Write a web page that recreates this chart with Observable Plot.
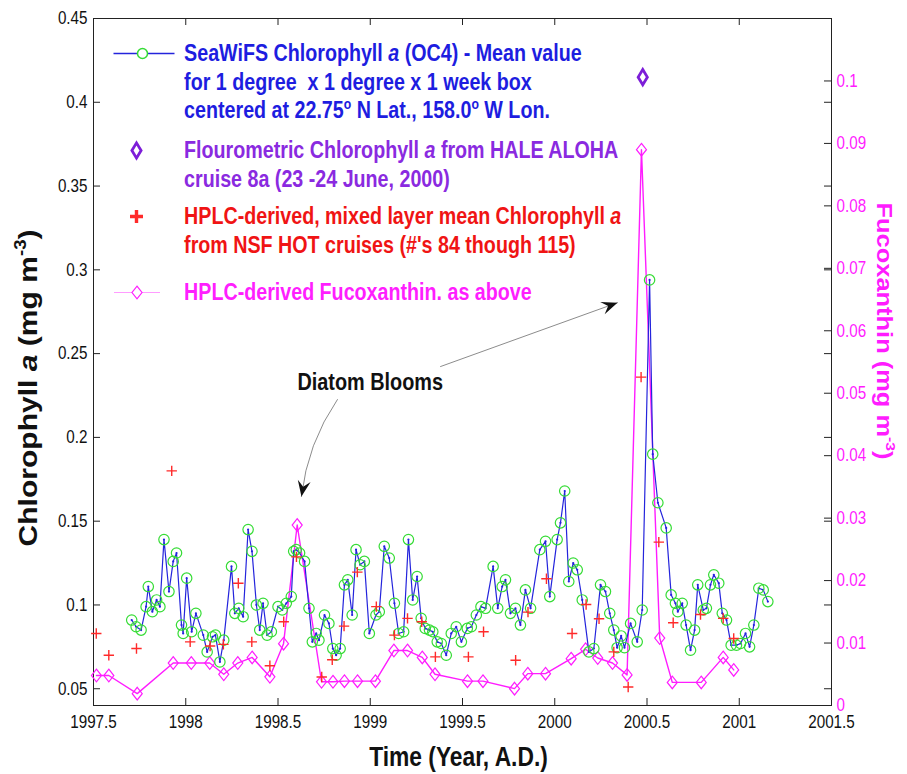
<!DOCTYPE html>
<html>
<head>
<meta charset="utf-8">
<script src="https://cdn.jsdelivr.net/npm/d3@7"></script>
<script src="https://cdn.jsdelivr.net/npm/@observablehq/plot@0.6"></script>
<style>
  body { margin: 0; background: #fff; }
  #chart svg { display: block; }
  #chart text { white-space: pre; }
</style>
</head>
<body>
<div id="chart"></div>
<script>
// SeaWiFS chlorophyll a (OC4), mean of a 1° x 1° x 1-week box at 22.75°N, 158.0°W (mg m-3)
const seawifsYear = [
  1997.707, 1997.731, 1997.758, 1997.785, 1997.797, 1997.819, 1997.842, 1997.860, 1997.882, 1997.909,
  1997.932, 1997.950, 1997.977, 1997.986, 1998.005, 1998.032, 1998.055, 1998.095, 1998.116, 1998.145,
  1998.161, 1998.185, 1998.206, 1998.248, 1998.266, 1998.287, 1998.311, 1998.338, 1998.359, 1998.383,
  1998.401, 1998.419, 1998.441, 1998.464, 1998.500, 1998.523, 1998.545, 1998.572, 1998.585, 1998.599,
  1998.617, 1998.644, 1998.668, 1998.686, 1998.707, 1998.722, 1998.752, 1998.776, 1998.797, 1998.815,
  1998.837, 1998.860, 1998.878, 1998.902, 1998.923, 1998.945, 1998.968, 1998.995, 1999.031, 1999.049,
  1999.076, 1999.103, 1999.131, 1999.154, 1999.181, 1999.207, 1999.230, 1999.254, 1999.276, 1999.298,
  1999.321, 1999.339, 1999.363, 1999.385, 1999.412, 1999.439, 1999.466, 1999.494, 1999.526, 1999.548,
  1999.575, 1999.600, 1999.625, 1999.666, 1999.691, 1999.715, 1999.733, 1999.760, 1999.787, 1999.814,
  1999.841, 1999.869, 1999.919, 1999.950, 1999.973, 2000.013, 2000.031, 2000.054, 2000.076, 2000.100,
  2000.122, 2000.149, 2000.185, 2000.212, 2000.248, 2000.275, 2000.298, 2000.320, 2000.338, 2000.360,
  2000.378, 2000.411, 2000.447, 2000.474, 2000.514, 2000.531, 2000.559, 2000.604, 2000.631, 2000.654,
  2000.667, 2000.691, 2000.712, 2000.736, 2000.758, 2000.775, 2000.805, 2000.822, 2000.844, 2000.862,
  2000.889, 2000.908, 2000.931, 2000.956, 2000.985, 2001.007, 2001.034, 2001.056, 2001.079, 2001.106,
  2001.130, 2001.155
];
const seawifsChl = [
  0.091, 0.087, 0.085, 0.099, 0.111, 0.096, 0.103, 0.099, 0.139, 0.108,
  0.126, 0.131, 0.088, 0.083, 0.116, 0.084, 0.095, 0.082, 0.072, 0.081,
  0.082, 0.066, 0.079, 0.123, 0.095, 0.098, 0.093, 0.145, 0.132, 0.100,
  0.085, 0.101, 0.082, 0.084, 0.099, 0.097, 0.101, 0.105, 0.132, 0.133,
  0.131, 0.126, 0.098, 0.078, 0.083, 0.079, 0.094, 0.089, 0.074, 0.070,
  0.074, 0.112, 0.115, 0.094, 0.133, 0.124, 0.126, 0.083, 0.094, 0.096,
  0.135, 0.128, 0.101, 0.083, 0.084, 0.139, 0.103, 0.117, 0.092, 0.086,
  0.085, 0.084, 0.078, 0.077, 0.070, 0.083, 0.087, 0.078, 0.086, 0.087,
  0.094, 0.099, 0.098, 0.123, 0.098, 0.111, 0.115, 0.095, 0.098, 0.088,
  0.109, 0.098, 0.133, 0.138, 0.105, 0.139, 0.149, 0.168, 0.114, 0.125,
  0.121, 0.103, 0.072, 0.074, 0.112, 0.108, 0.095, 0.085, 0.0745, 0.0815,
  0.0745, 0.089, 0.078, 0.097, 0.294, 0.190, 0.161, 0.146, 0.106, 0.101,
  0.096, 0.101, 0.088, 0.073, 0.085, 0.112, 0.097, 0.098, 0.112, 0.118,
  0.113, 0.095, 0.091, 0.076, 0.076, 0.077, 0.083, 0.075, 0.088, 0.110,
  0.109, 0.102
];

// Fluorometric chlorophyll a, HALE ALOHA cruise 8a, 23-24 June 2000 (mg m-3)
const haleYear = [2000.477];
const haleChl = [0.415];

// HPLC mixed-layer mean chlorophyll a, HOT cruises 84-115 (mg m-3)
const hplcYear = [
  1997.515, 1997.583, 1997.733, 1997.924, 1998.024, 1998.132, 1998.204, 1998.285, 1998.358, 1998.456,
  1998.531, 1998.600, 1998.737, 1998.794, 1998.858, 1998.930, 1999.033, 1999.131, 1999.202, 1999.279,
  1999.353, 1999.532, 1999.614, 1999.788, 1999.855, 1999.955, 2000.094, 2000.170, 2000.240, 2000.320,
  2000.398, 2000.468, 2000.564, 2000.642, 2000.790, 2000.913, 2000.970
];
const hplcChl = [
  0.083, 0.070, 0.074, 0.180, 0.078, 0.0755, 0.0765, 0.113, 0.078, 0.0637,
  0.090, 0.1287, 0.057, 0.0673, 0.0874, 0.1196, 0.099, 0.082, 0.092, 0.090,
  0.069, 0.069, 0.084, 0.067, 0.0957, 0.1156, 0.083, 0.1003, 0.0918, 0.072,
  0.051, 0.236, 0.1375, 0.0894, 0.0943, 0.092, 0.080
];

// HPLC fucoxanthin, same cruises (mg m-3, right axis)
const fucoYear = [
  1997.516, 1997.583, 1997.737, 1997.932, 1998.030, 1998.130, 1998.206, 1998.282, 1998.360, 1998.456,
  1998.530, 1998.604, 1998.736, 1998.798, 1998.860, 1998.931, 1999.028, 1999.128, 1999.202, 1999.282,
  1999.351, 1999.527, 1999.611, 1999.782, 1999.854, 1999.950, 2000.089, 2000.167, 2000.233, 2000.313,
  2000.392, 2000.470, 2000.569, 2000.637, 2000.794, 2000.913, 2000.970
];
const fucoVal = [
  0.0048, 0.0048, 0.0019, 0.0068, 0.0068, 0.0068, 0.0050, 0.0068, 0.0077, 0.0046,
  0.0099, 0.0289, 0.0038, 0.0038, 0.0039, 0.0039, 0.0039, 0.0088, 0.0088, 0.0077,
  0.0050, 0.0039, 0.0039, 0.0027, 0.0051, 0.0051, 0.0075, 0.0090, 0.0076, 0.0068,
  0.0049, 0.0890, 0.0108, 0.0037, 0.0037, 0.0077, 0.0057
];

// Axis ticks
const yearTicks = [1997.5, 1998, 1998.5, 1999, 1999.5, 2000, 2000.5, 2001, 2001.5];
const chlTicks = [0.05, 0.1, 0.15, 0.2, 0.25, 0.3, 0.35, 0.4, 0.45];
const fucoTicks = [0, 0.01, 0.02, 0.03, 0.04, 0.05, 0.06, 0.07, 0.08, 0.09, 0.1];

// Legend entries (markup: *italic*, ^superscript^)
const legendSeawifs = [
  "SeaWiFS Chlorophyll *a* (OC4) - Mean value",
  "for 1 degree  x 1 degree x 1 week box",
  "centered at 22.75^o^ N Lat., 158.0^o^ W Lon."
];
const legendHale = ["Flourometric Chlorophyll *a* from HALE ALOHA", "cruise 8a (23 -24 June, 2000)"];
const legendHplc = ["HPLC-derived, mixed layer mean Chlorophyll *a*", "from NSF HOT cruises (#'s 84 though 115)"];
const legendFuco = ["HPLC-derived Fucoxanthin. as above"];

// "Diatom Blooms" note and its two pointers (year, chlorophyll units)
const noteText = "Diatom Blooms";
const noteAt = [1999.0, 0.233];
const pointerFrom = [[1998.822, 0.2226], [1999.381, 0.2423]];
const pointerTo = [[1998.627, 0.1647], [2000.340, 0.2804]];

// ---- drawing ----
const CHL = [0.04, 0.45];
const FUCO_MAX = 0.11;
const toLeft = (r) => CHL[0] + (r / FUCO_MAX) * (CHL[1] - CHL[0]);
const fromLeft = (v) => ((v - CHL[0]) / (CHL[1] - CHL[0])) * FUCO_MAX;

const W = 907, H = 774;
const M = {top: 18, right: 76, bottom: 69, left: 93};
const IW = W - M.left - M.right, IH = H - M.top - M.bottom;
const TICK = 7;

const BLUE = "#2424dc", GREEN = "#35dc35", RED = "#ff2a2a", MAGENTA = "#ff1cff", PURPLE = "#7d1ed8";
const TXT_BLUE = "#1d1de0", TXT_PURPLE = "#8a2ae0", TXT_RED = "#f01414", TXT_MAGENTA = "#ff1eff";

const hline = (half) => ({draw(c) { c.moveTo(-half, 0); c.lineTo(half, 0); }});
const rhombus = (hw, hh) => ({draw(c) { c.moveTo(0, -hh); c.lineTo(hw, 0); c.lineTo(0, hh); c.lineTo(-hw, 0); c.closePath(); }});
const plusSign = (h) => ({draw(c) { c.moveTo(-h, 0); c.lineTo(h, 0); c.moveTo(0, -h); c.lineTo(0, h); }});
const arrowHead = (w, l) => ({draw(c) { c.moveTo(0, 0); c.lineTo(w, l); c.lineTo(0, l * 0.62); c.lineTo(-w, l); c.closePath(); }});

const seawifs = seawifsYear.map((x, i) => ({x, y: seawifsChl[i]}));
const hale = haleYear.map((x, i) => ({x, y: haleChl[i]}));
const hplc = hplcYear.map((x, i) => ({x, y: hplcChl[i]}));
const fuco = fucoYear.map((x, i) => ({x, y: toLeft(fucoVal[i])}));
const pointers = pointerFrom.map((p, i) => ({x1: p[0], y1: p[1], x2: pointerTo[i][0], y2: pointerTo[i][1]}));

const FONT = "'Liberation Sans', Arial, Helvetica, sans-serif";
const LEG = 23.3;
const legX = 90.6;
// Plot.text takes dy as a constant, so each legend line is its own mark
const legendLines = (lines, color, dy0, step) =>
  lines.map((t, i) => Plot.text([t], {
    frameAnchor: "top-left", dx: legX, dy: dy0 + i * step, text: (d) => d,
    textAnchor: "start", lineAnchor: "middle", fill: color, fontWeight: "bold", fontSize: LEG
  }));

const chart = Plot.plot({
  width: W, height: H,
  marginTop: M.top, marginRight: M.right, marginBottom: M.bottom, marginLeft: M.left,
  style: {fontFamily: FONT, color: "#111", background: "white"},
  x: {domain: [yearTicks[0], yearTicks[yearTicks.length - 1]]},
  y: {domain: CHL},
  marks: [
    // frame and inward ticks on every side
    Plot.frame({stroke: "#222", strokeWidth: 1}),
    Plot.tickY(chlTicks, {y: (d) => d, insetRight: IW - TICK, stroke: "#222"}),
    Plot.tickY(chlTicks, {y: (d) => d, insetLeft: IW - TICK, stroke: "#222"}),
    Plot.tickY(fucoTicks, {y: (d) => toLeft(d), insetLeft: IW - TICK, stroke: "#222"}),
    Plot.tickX(yearTicks, {x: (d) => d, insetTop: IH - TICK, stroke: "#222"}),
    Plot.tickX(yearTicks, {x: (d) => d, insetBottom: IH - TICK, stroke: "#222"}),

    // tick labels
    Plot.axisX(yearTicks, {tickSize: 0, tickPadding: 10, fontSize: 18, label: null, tickFormat: (d) => String(d)}),
    Plot.axisY(chlTicks, {tickSize: 0, tickPadding: 6, fontSize: 18, label: null, tickFormat: (d) => String(+d.toFixed(2))}),
    Plot.axisY(fucoTicks.map(toLeft), {anchor: "right", tickSize: 0, tickPadding: 5, fontSize: 18, label: null,
      fill: MAGENTA, tickFormat: (d) => String(+fromLeft(d).toFixed(2))}),

    // axis titles
    Plot.text(["Time (Year, A.D.)"], {frameAnchor: "bottom", dx: -4, dy: 60, text: (d) => d,
      textAnchor: "middle", fontWeight: "bold", fontSize: 27, fill: "#111"}),
    Plot.text(["Chlorophyll *a* (mg m^-3^)"], {frameAnchor: "left", dx: -65, dy: 26, rotate: -90, text: (d) => d,
      textAnchor: "middle", fontWeight: "bold", fontSize: 25.4, fill: "#111"}),
    Plot.text(["Fucoxanthin (mg m^-3^)"], {frameAnchor: "right", dx: 52, dy: -31, rotate: 90, text: (d) => d,
      textAnchor: "middle", fontWeight: "bold", fontSize: 21.5, fill: MAGENTA}),

    // fucoxanthin (right axis)
    Plot.line(fuco, {x: "x", y: "y", stroke: MAGENTA, strokeWidth: 1.4}),
    Plot.dot(fuco, {x: "x", y: "y", symbol: rhombus(5, 6.3), stroke: MAGENTA, fill: "none", strokeWidth: 1.2}),

    // SeaWiFS series
    Plot.line(seawifs, {x: "x", y: "y", stroke: BLUE, strokeWidth: 1.2}),
    Plot.dot(seawifs, {x: "x", y: "y", r: 1.1, fill: BLUE, stroke: "none"}),
    Plot.dot(seawifs, {x: "x", y: "y", r: 5.2, stroke: GREEN, fill: "none", strokeWidth: 1.2}),

    // HPLC chlorophyll
    Plot.dot(hplc, {x: "x", y: "y", symbol: plusSign(5.2), stroke: RED, fill: "none", strokeWidth: 1.4}),

    // HALE ALOHA fluorometric chlorophyll
    Plot.dot(hale, {x: "x", y: "y", symbol: rhombus(4.6, 7.6), stroke: PURPLE, fill: "none", strokeWidth: 2.8}),

    // annotation: one curved and one straight pointer with filled heads
    Plot.arrow(pointers.slice(0, 1), {x1: "x1", y1: "y1", x2: "x2", y2: "y2", bend: -14, stroke: "#8c8c8c", strokeWidth: 1, headLength: 0}),
    Plot.arrow(pointers.slice(1), {x1: "x1", y1: "y1", x2: "x2", y2: "y2", bend: 0, stroke: "#8c8c8c", strokeWidth: 1, headLength: 0}),
    Plot.dot(pointers, {x: "x2", y: "y2", symbol: arrowHead(6.5, 16), rotate: (d, i) => (i === 0 ? 190 : 70), fill: "#111", stroke: "none"}),
    Plot.text([noteText], {x: noteAt[0], y: noteAt[1], text: (d) => d, fontWeight: "bold", fontSize: 23.5, fill: "#111"}),

    // legend
    Plot.dot([0], {frameAnchor: "top-left", dx: 50.5, dy: 35, symbol: hline(30.5), stroke: BLUE, strokeWidth: 1.5, fill: "none"}),
    Plot.dot([0], {frameAnchor: "top-left", dx: 49, dy: 35, r: 5, stroke: GREEN, fill: "white", strokeWidth: 1.5}),
    ...legendLines(legendSeawifs, TXT_BLUE, 35, 28.7),
    Plot.dot([0], {frameAnchor: "top-left", dx: 43, dy: 132, symbol: rhombus(4.6, 7.6), stroke: PURPLE, fill: "none", strokeWidth: 2.8}),
    ...legendLines(legendHale, TXT_PURPLE, 132, 29),
    Plot.dot([0], {frameAnchor: "top-left", dx: 43, dy: 198, symbol: plusSign(6.5), stroke: RED, fill: "none", strokeWidth: 3.4}),
    ...legendLines(legendHplc, TXT_RED, 198, 29),
    Plot.dot([0], {frameAnchor: "top-left", dx: 43.5, dy: 274, symbol: hline(23), stroke: "#ff9cff", strokeWidth: 1, fill: "none"}),
    Plot.dot([0], {frameAnchor: "top-left", dx: 43.5, dy: 274, symbol: rhombus(5, 6.3), stroke: MAGENTA, fill: "white", strokeWidth: 1.2}),
    ...legendLines(legendFuco, TXT_MAGENTA, 274, 29)
  ]
});

document.getElementById("chart").appendChild(chart);

// Lettering: inline *italic* / ^superscript^ markup, and the narrow Helvetica proportions
const SX = 0.845;
const NS = "http://www.w3.org/2000/svg";
chart.querySelectorAll("text").forEach((el) => {
  const raw = el.textContent;
  if (/[*^]/.test(raw)) {
    el.textContent = "";
    let raised = false;
    raw.split(/(\*[^*]+\*|\^[^^]+\^)/).filter((s) => s).forEach((p) => {
      const ts = document.createElementNS(NS, "tspan");
      if (p[0] === "^") {
        ts.textContent = p.slice(1, -1);
        ts.setAttribute("font-size", "0.62em");
        ts.setAttribute("dy", "-0.68em");
        raised = true;
      } else {
        if (p[0] === "*") { ts.textContent = p.slice(1, -1); ts.setAttribute("font-style", "italic"); }
        else ts.textContent = p;
        if (raised) { ts.setAttribute("dy", "0.42em"); raised = false; }
      }
      el.appendChild(ts);
    });
  }
  const ctm = el.getCTM();
  const rotated = ctm && Math.abs(ctm.b) > Math.abs(ctm.a);
  let t = el.getAttribute("transform");
  if (!t) {
    const x = +el.getAttribute("x") || 0, y = +el.getAttribute("y") || 0;
    el.removeAttribute("x"); el.removeAttribute("y");
    t = `translate(${x},${y})`;
  }
  el.setAttribute("transform", `${t} scale(${rotated ? 1 / SX : SX},1)`);
});
</script>
</body>
</html>
